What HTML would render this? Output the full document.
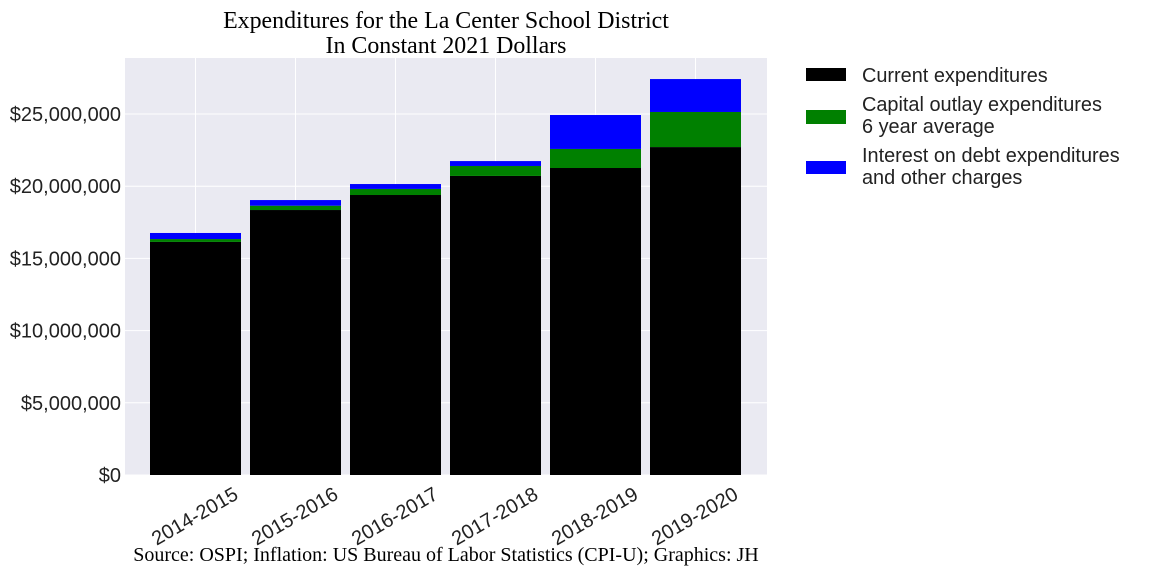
<!DOCTYPE html>
<html><head><meta charset="utf-8"><style>
body{margin:0;background:#fff;}
svg text{font-family:"Liberation Sans",sans-serif;}
</style></head><body>
<svg id="chart" width="1152" height="576" xmlns="http://www.w3.org/2000/svg">
<rect x="125" y="58" width="642" height="417" fill="#eaeaf2"/>
<g id="grid"></g>
<g id="bars"></g>
<g id="axes"></g>
<text x="446" y="28" text-anchor="middle" font-size="23.9" style="font-family:'Liberation Serif',serif">Expenditures for the La Center School District</text>
<text x="446" y="53" text-anchor="middle" font-size="23.9" style="font-family:'Liberation Serif',serif">In Constant 2021 Dollars</text>
<text x="446" y="561" text-anchor="middle" font-size="20" style="font-family:'Liberation Serif',serif">Source: OSPI; Inflation: US Bureau of Labor Statistics (CPI-U); Graphics: JH</text>
<g>
<rect x="806" y="68" width="40" height="13" fill="#000"/>
<text x="862" y="82" font-size="19.9" fill="#222">Current expenditures</text>
<rect x="806" y="110" width="40" height="14" fill="#008000"/>
<text x="862" y="111" font-size="19.9" fill="#222">Capital outlay expenditures</text>
<text x="862" y="133" font-size="19.9" fill="#222">6 year average</text>
<rect x="806" y="161" width="40" height="13" fill="#0000ff"/>
<text x="862" y="162" font-size="19.9" fill="#222">Interest on debt expenditures</text>
<text x="862" y="184" font-size="19.9" fill="#222">and other charges</text>
</g>
</svg>
<script>
const categories = ["2014-2015","2015-2016","2016-2017","2017-2018","2018-2019","2019-2020"];
const currentVals = [16.14, 18.35, 19.39, 20.71, 21.26, 22.71];
const capitalVals = [0.20, 0.30, 0.42, 0.69, 1.32, 2.43];
const interestVals = [0.42, 0.39, 0.34, 0.34, 2.35, 2.28];
const yTicks = [0, 5, 10, 15, 20, 25];
const yTickLabels = ["$0","$5,000,000","$10,000,000","$15,000,000","$20,000,000","$25,000,000"];

const NS = "http://www.w3.org/2000/svg";
const y0 = 475, pxPerM = 14.44;
function yScale(v){ return y0 - v * pxPerM; }
function xCenter(i){ return 195.5 + i * 100; }
const barW = 91;
const grid = document.getElementById('grid'), bars = document.getElementById('bars'), axes = document.getElementById('axes');
function mk(tag, attrs, parent){ const e = document.createElementNS(NS, tag); for (const k in attrs) e.setAttribute(k, attrs[k]); parent.appendChild(e); return e; }

yTicks.forEach((t, i) => {
  const gl = mk('line', {x1:125, x2:767, y1:yScale(t), y2:yScale(t), stroke:'#fff', 'stroke-width':1}, grid);
  
  
  const lb = mk('text', {x:121, y:yScale(t)+7, 'text-anchor':'end', 'font-size':20, fill:'#222'}, axes);
  lb.textContent = yTickLabels[i];
  
  
});
categories.forEach((c, i) => {
  const x = xCenter(i);
  const gl = mk('line', {x1:x, x2:x, y1:58, y2:475, stroke:'#fff', 'stroke-width':1}, grid);
  
  
  const a = currentVals[i], b = a + capitalVals[i], d = b + interestVals[i];
  const r1 = mk('rect', {x:x-barW/2, width:barW, y:yScale(a), height:yScale(0)-yScale(a), fill:'#000'}, bars);
  
  
  const r2 = mk('rect', {x:x-barW/2, width:barW, y:yScale(b), height:yScale(a)-yScale(b), fill:'#008000'}, bars);
  
  
  const r3 = mk('rect', {x:x-barW/2, width:barW, y:yScale(d), height:yScale(b)-yScale(d), fill:'#0000ff'}, bars);
  
  
  const lb = mk('text', {x:0, y:0, 'text-anchor':'end', 'font-size':20, fill:'#222', transform:`translate(${x+44},${498}) rotate(-30)`}, axes);
  lb.textContent = c;
  
  
});
</script>
</body></html>
